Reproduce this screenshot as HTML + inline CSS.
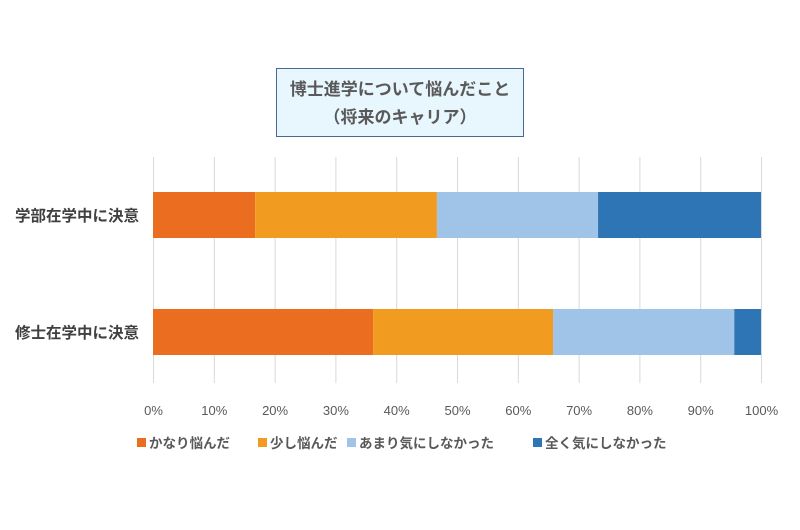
<!DOCTYPE html>
<html><head><meta charset="utf-8"><style>
body{margin:0;background:#fff;}
svg{display:block;font-family:"Liberation Sans","Noto Sans CJK JP",sans-serif;}
</style></head><body>
<svg id="chart" width="800" height="530">
<rect x="276.5" y="68.5" width="247" height="68" fill="#e8f6fd" stroke="#4a6693"/>
<text x="400" y="95" text-anchor="middle" font-size="17" font-weight="bold" fill="#595959">博士進学について悩んだこと</text>
<text x="400" y="123" text-anchor="middle" font-size="17" font-weight="bold" fill="#595959">（将来のキャリア）</text>
<g id="grid"></g><g id="bars"></g><g id="axis"></g><g id="legend"></g>
</svg>
<script>
const categories = ["学部在学中に決意", "修士在学中に決意"];
const seriesNames = ["かなり悩んだ", "少し悩んだ", "あまり気にしなかった", "全く気にしなかった"];
const seriesColors = ["#ea6d20", "#f19b20", "#9fc4e7", "#2e75b6"];
const s1 = [16.8, 36.2];
const s2 = [29.9, 29.6];
const s3 = [26.5, 29.8];
const s4 = [26.8, 4.4];
const tickValues = [0,10,20,30,40,50,60,70,80,90,100];
const series = [s1, s2, s3, s4];
const NS = "http://www.w3.org/2000/svg";
const x0 = 153, x1 = 761, rowY = [192, 309], barH = 46;
const xs = v => x0 + (x1 - x0) * v / 100;
function mk(tag, attrs, parent) { const e = document.createElementNS(NS, tag); for (const k in attrs) e.setAttribute(k, attrs[k]); parent.appendChild(e); return e; }
const grid = document.getElementById("grid"), bars = document.getElementById("bars"), axis = document.getElementById("axis"), legend = document.getElementById("legend");
tickValues.forEach(t => {
  const l = mk("line", {x1: xs(t)+0.5, x2: xs(t)+0.5, y1: 157, y2: 383, stroke: "#d9d9d9"}, grid);
  
  
  const tx = mk("text", {x: xs(t)+0.5, y: 415, "text-anchor": "middle", "font-size": 13, fill: "#595959"}, axis);
  tx.textContent = t + "%";
  
  
});
categories.forEach((c, i) => {
  let acc = 0;
  series.forEach((s, j) => {
    const r = mk("rect", {x: xs(acc), y: rowY[i], width: xs(acc + s[i]) - xs(acc), height: barH, fill: seriesColors[j]}, bars);
    
    
    acc += s[i];
  });
  const lt = mk("text", {x: 139, y: rowY[i] + barH/2 + 6, "text-anchor": "end", "font-size": 15.5, "font-weight": "bold", fill: "#404040"}, axis);
  lt.textContent = c;
  
  
});
const legX = [137, 258, 347, 533];
seriesNames.forEach((n, j) => {
  const sq = mk("rect", {x: legX[j], y: 438, width: 9, height: 9, fill: seriesColors[j]}, legend);
  
  
  const t = mk("text", {x: legX[j] + 12, y: 448, "font-size": 13.5, "font-weight": "bold", fill: "#595959"}, legend);
  t.textContent = n;
  
  
});
</script>
</body></html>
